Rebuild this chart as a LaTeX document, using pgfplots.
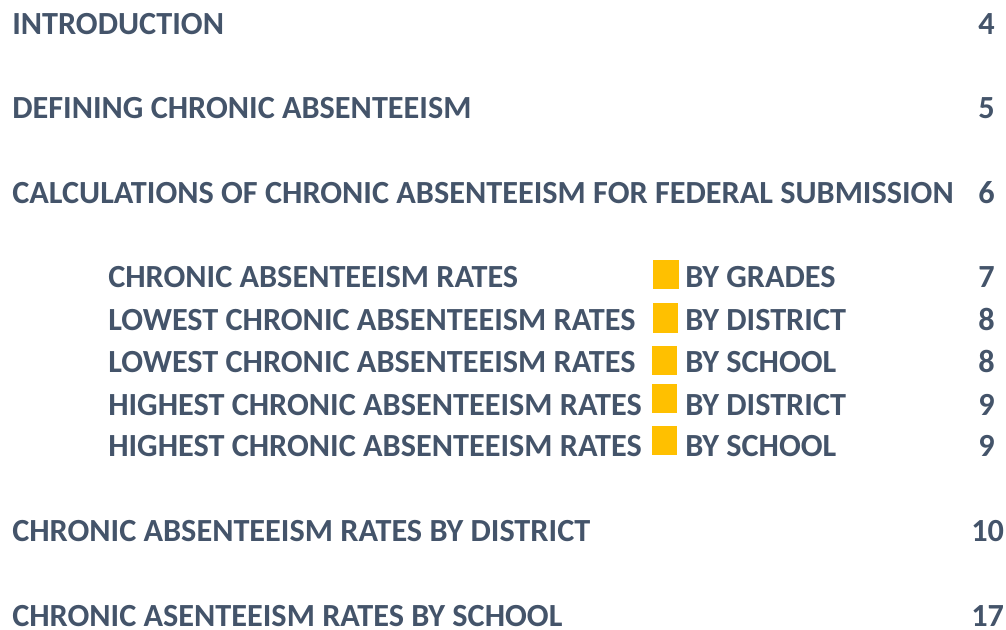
\documentclass[border=0pt]{standalone}
\usepackage{fontspec}
\setmainfont{Carlito}
\usepackage{pgfplots}
\pgfplotsset{compat=1.18}
\definecolor{tocblue}{HTML}{44546A}
\definecolor{tocyellow}{HTML}{FFC000}
\pgfdeclareplotmark{tocsq}{%
  \pgfpathrectangle{\pgfpoint{-9.4pt}{-10.9pt}}{\pgfpoint{18.8pt}{21.8pt}}%
  \pgfusepathqfill}
\begin{document}
\begin{tikzpicture}
\begin{axis}[
  width=754.5pt, height=471.75pt, scale only axis,
  xmin=0, xmax=1006, ymin=0, ymax=629, y dir=reverse,
  hide axis, clip=false,
]
\path (rel axis cs:0,0) rectangle (rel axis cs:1,1);
% yellow markers (centres, px)
\addplot[only marks, mark=tocsq, color=tocyellow] coordinates {
  (666,274.5) (665.5,318) (664.5,360.5) (664.5,398.5) (664.5,440.5)
};
\tikzset{toc/.style={anchor=base west, inner sep=0pt, text=tocblue,
  font=\fontsize{24.2}{28}\selectfont\bfseries}}
% main entries
\node[toc] at (axis cs:12,34) {INTRODUCTION};
\node[toc] at (axis cs:12,118) {DEFINING CHRONIC ABSENTEEISM};
\node[toc] at (axis cs:12,203) {CALCULATIONS OF CHRONIC ABSENTEEISM FOR FEDERAL SUBMISSION};
\node[toc] at (axis cs:108,287) {CHRONIC ABSENTEEISM RATES};
\node[toc] at (axis cs:108,330) {LOWEST CHRONIC ABSENTEEISM RATES};
\node[toc] at (axis cs:108,372) {LOWEST CHRONIC ABSENTEEISM RATES};
\node[toc] at (axis cs:108,415) {HIGHEST CHRONIC ABSENTEEISM RATES};
\node[toc] at (axis cs:108,456) {HIGHEST CHRONIC ABSENTEEISM RATES};
\node[toc] at (axis cs:685,287) {BY GRADES};
\node[toc] at (axis cs:685,330) {BY DISTRICT};
\node[toc] at (axis cs:685,372) {BY SCHOOL};
\node[toc] at (axis cs:685,415) {BY DISTRICT};
\node[toc] at (axis cs:685,456) {BY SCHOOL};
\node[toc] at (axis cs:12,541) {CHRONIC ABSENTEEISM RATES BY DISTRICT};
\node[toc] at (axis cs:12,626) {CHRONIC ASENTEEISM RATES BY SCHOOL};
% page numbers
\node[toc] at (axis cs:978,34) {4};
\node[toc] at (axis cs:978,118) {5};
\node[toc] at (axis cs:978,203) {6};
\node[toc] at (axis cs:978,287) {7};
\node[toc] at (axis cs:978,330) {8};
\node[toc] at (axis cs:978,372) {8};
\node[toc] at (axis cs:978,415) {9};
\node[toc] at (axis cs:978,456) {9};
\node[toc] at (axis cs:971,541) {10};
\node[toc] at (axis cs:971,626) {17};
\end{axis}
\end{tikzpicture}
\end{document}
